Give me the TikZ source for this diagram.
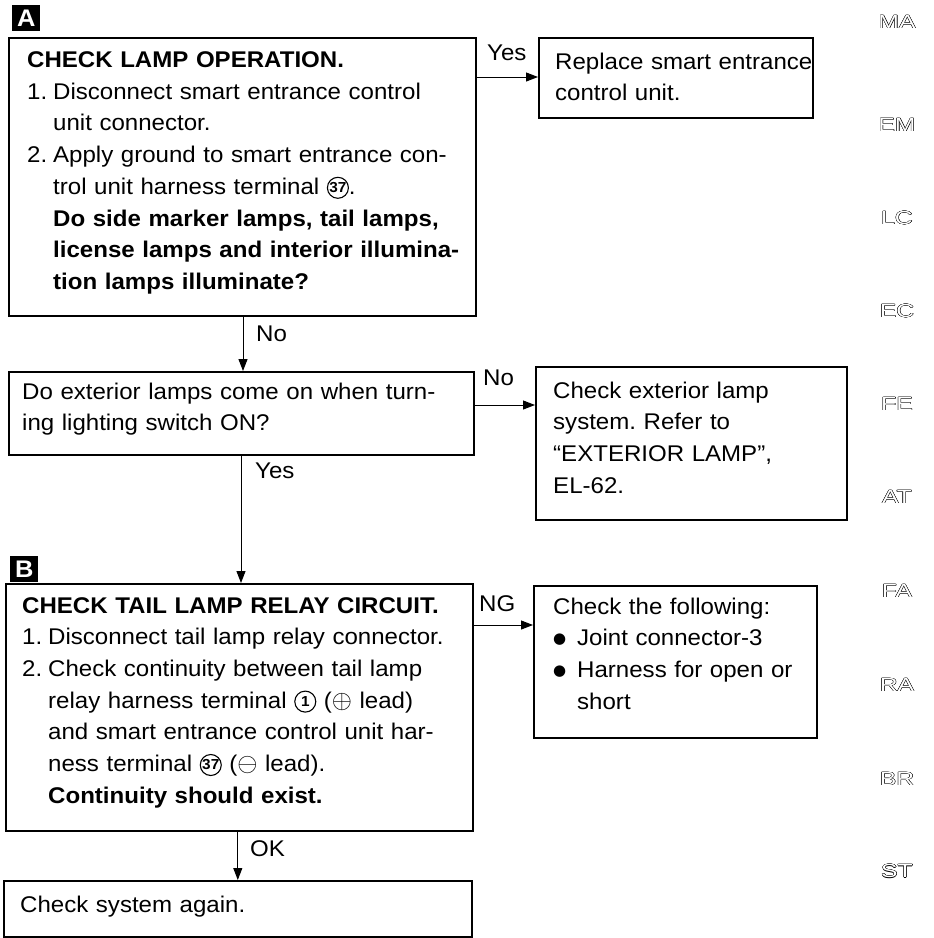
\documentclass[tikz,border=0pt]{standalone}
\usepackage{fontspec}
\setmainfont{Liberation Sans}[FakeStretch=1.06]
\newfontfamily\dejavu{DejaVu Sans}
\newfontfamily\sidefont{Liberation Sans}
\usetikzlibrary{arrows.meta}
\frenchspacing
\newcommand{\cnum}[1]{\tikz[baseline={(0pt,-6.5pt)},x=1pt,y=1pt]{\draw[line width=1.1pt] (0,0) circle[radius=10.5pt]; \path (0,0) node[anchor=center,inner sep=0pt,text width=,align=center,font=\fontsize{14.5}{14.5}\selectfont\bfseries] {#1};}}
\newcommand{\blt}{\makebox[24pt][l]{\raisebox{2pt}{\dejavu\fontsize{15}{15}\selectfont ●}}}
\newcommand{\pl}{\scalebox{1.25}{$\oplus$}}
\newcommand{\mi}{\scalebox{1.25}{$\ominus$}}
\begin{document}
\begin{tikzpicture}[x=1pt,y=-1pt,
  box/.style={draw,line width=1.6pt,anchor=north west,inner sep=0pt},
  txt/.style={anchor=base west,inner sep=0pt,text width=600pt,align=left,font=\fontsize{22.7}{31.7}\selectfont},
  lbl/.style={anchor=base west,inner sep=0pt,font=\fontsize{22.7}{27}\selectfont},
  arr/.style={line width=1pt,-{Triangle[length=12pt,width=9pt]}},
  tag/.style={fill=black,text=white,font=\fontsize{24}{24}\selectfont\bfseries,minimum width=28pt,minimum height=26pt,inner sep=0pt,anchor=north west},
  side/.style={inner sep=0pt,font=\sidefont\fontsize{19}{19}\selectfont}]
\useasboundingbox (0,0) rectangle (934,938);
% tags
\node[tag] (tA) at (12,5) {A};
\node[tag] (tB) at (10,556) {B};
% boxes
\node[box,minimum width=467pt,minimum height=278pt] (A) at (8,37) {};
\node[box,minimum width=274pt,minimum height=80pt] (R) at (538,37) {};
\node[box,minimum width=465pt,minimum height=83pt] (D) at (8,371) {};
\node[box,minimum width=311pt,minimum height=153pt] (X) at (535,366) {};
\node[box,minimum width=467pt,minimum height=247pt] (B) at (5,583) {};
\node[box,minimum width=283pt,minimum height=152pt] (N) at (533,585) {};
\node[box,minimum width=468pt,minimum height=56pt] (F) at (3,880) {};
% texts
\node[txt] (At) at (27,67.5) {\textbf{CHECK LAMP OPERATION.}\\
\makebox[26pt][l]{1.}Disconnect smart entrance control\\
\hspace*{26pt}unit connector.\\
\makebox[26pt][l]{2.}Apply ground to smart entrance con-\\
\hspace*{26pt}trol unit harness terminal \cnum{37}.\\
\hspace*{26pt}\textbf{Do side marker lamps, tail lamps,}\\
\hspace*{26pt}\textbf{license lamps and interior illumina-}\\
\hspace*{26pt}\textbf{tion lamps illuminate?}};
\node[txt] (Rt) at (555,69) {Replace smart entrance\\control unit.};
\node[txt] (Dt) at (22,399) {Do exterior lamps come on when turn-\\ing lighting switch ON?};
\node[txt] (Xt) at (553,398) {Check exterior lamp\\system. Refer to\\``EXTERIOR LAMP'',\\EL-62.};
\node[txt] (Bt) at (22,613) {\textbf{CHECK TAIL LAMP RELAY CIRCUIT.}\\
\makebox[26pt][l]{1.}Disconnect tail lamp relay connector.\\
\makebox[26pt][l]{2.}Check continuity between tail lamp\\
\hspace*{26pt}relay harness terminal \cnum{1} (\pl{} lead)\\
\hspace*{26pt}and smart entrance control unit har-\\
\hspace*{26pt}ness terminal \cnum{37} (\mi{} lead).\\
\hspace*{26pt}\textbf{Continuity should exist.}};
\node[txt] (Nt) at (553,614) {Check the following:\\
\blt Joint connector-3\\
\blt Harness for open or\\
\hspace*{24pt}short};
\node[txt] (Ft) at (20,912) {Check system again.};
% connectors
\coordinate (c1) at (0,77);
\coordinate (c2) at (0,405);
\coordinate (c3) at (0,625);
\coordinate (v1) at (243,0);
\coordinate (v2) at (241,0);
\draw[arr] (A.east |- c1) -- (R.west |- c1);
\draw[arr] (A.south -| v1) -- (D.north -| v1);
\draw[arr] (D.east |- c2) -- (X.west |- c2);
\draw[arr] (D.south -| v2) -- (B.north -| v2);
\draw[arr] (B.east |- c3) -- (N.west |- c3);
\draw[arr] (B.south -| F.north) -- (F.north);
% labels
\node[lbl] (l1) at (487,60) {Yes};
\node[lbl] (l2) at (256,341) {No};
\node[lbl] (l3) at (483,385) {No};
\node[lbl] (l4) at (255,478) {Yes};
\node[lbl] (l5) at (479,611) {NG};
\node[lbl] (l6) at (250,856) {OK};
% side index
\foreach \t/\yy in {MA/22,EM/125,LC/218,EC/311,FE/404,AT/497,FA/591,RA/685,BR/779,ST/871}{
  \foreach \dx/\dy in {0.45/0,-0.45/0,0/0.45,0/-0.45,0.3/0.3,0.3/-0.3,-0.3/0.3,-0.3/-0.3}
    \node[side] at (897+\dx,\yy+\dy) {\scalebox{1.3}[1]{\t}};
  \node[side,text=white] (s\t) at (897,\yy) {\scalebox{1.3}[1]{\t}};
}
\end{tikzpicture}
\end{document}
